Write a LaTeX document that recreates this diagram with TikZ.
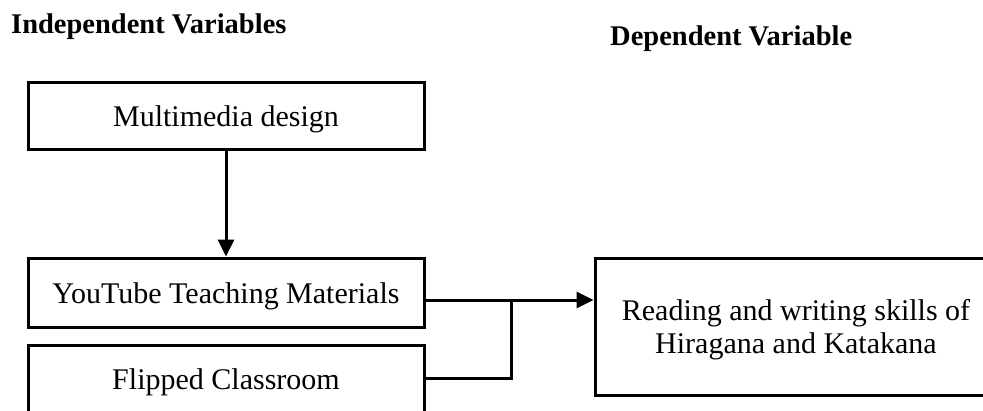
\documentclass[tikz,border=0pt]{standalone}
\usepackage{fontspec}
\setmainfont{Liberation Serif}
\usetikzlibrary{arrows.meta}

\begin{document}
\begin{tikzpicture}[x=1pt,y=-1pt,>={Triangle[length=17pt,width=16pt]},
        box/.style={draw,line width=3pt,inner sep=0pt,align=center,text height=25pt,text depth=3pt,
            font=\fontsize{30}{33}\selectfont},
        head/.style={anchor=base west,inner sep=0pt,font=\bfseries\fontsize{28.5}{34}\selectfont},
        link/.style={line width=3pt}]
        \useasboundingbox (0,0) rectangle (983,410);
        \node[head] (indep) at (11,33) {Independent Variables};
        \node[head] (deptitle) at (610,45) {Dependent Variable};
        \node[box,minimum width=396pt,minimum height=67pt] (media) at (226,115.5) {Multimedia design};
        \node[box,minimum width=396pt,minimum height=69pt] (tube) at (226,292.5) {YouTube Teaching Materials};
        \node[box,minimum width=396pt,minimum height=67pt] (flip) at (226,378.5) {Flipped Classroom};
        \node[box,text height=58pt,text depth=5pt,minimum width=402pt,minimum height=137pt] (skill) at (796,326.5)
            {Reading and writing skills of\\Hiragana and Katakana};
        \coordinate (join) at (511,300);
        \draw[link,->] (media) -- (tube);
        \draw[link] (tube.east |- join) -- (join);
        \draw[link] (flip.east) -| (join);
        \draw[link,->] (join) -- (skill.west |- join);
    \end{tikzpicture}
\end{document}
